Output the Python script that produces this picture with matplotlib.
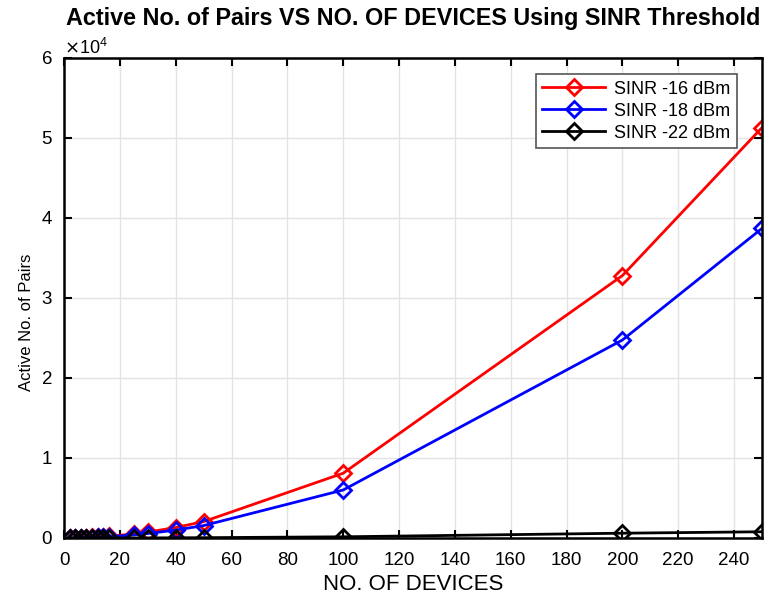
import numpy as np
import matplotlib.pyplot as plt

plt.rcParams['font.family'] = ['Liberation Sans', 'DejaVu Sans']

# number of devices
devices = [2, 4, 6, 8, 10, 12, 14, 16, 25, 30, 40, 50, 100, 200, 250]

# active pairs for each SINR threshold
pairs_16 = [3, 13, 30, 52, 82, 118, 160, 210, 512, 738, 1312, 2050, 8100, 32800, 51300]
pairs_18 = [2, 10, 22, 40, 62, 89, 121, 158, 390, 560, 990, 1550, 6000, 24750, 38700]
pairs_22 = [0, 0, 1, 1, 2, 2, 3, 4, 10, 14, 25, 40, 150, 600, 780]

labels = ['SINR -16 dBm', 'SINR -18 dBm', 'SINR -22 dBm']
colors = ['red', 'blue', 'black']

fig = plt.figure(figsize=(7.68, 5.97), dpi=100)
ax = fig.add_axes([64 / 768, 1 - 538 / 597, 698 / 768, 480 / 597])

for ys, lab, c in zip([pairs_16, pairs_18, pairs_22], labels, colors):
    ax.plot(devices, ys, color=c, linewidth=2, marker='D', markersize=8,
            markerfacecolor='none', markeredgewidth=2, label=lab)

ax.set_xlim(0, 250)
ax.set_ylim(0, 60000)
ax.set_xticks(np.arange(0, 241, 20))
ax.set_yticks(np.arange(0, 60001, 10000))
ax.ticklabel_format(axis='y', style='sci', scilimits=(0, 0), useMathText=True)
ax.yaxis.get_offset_text().set_fontsize(13)

ax.grid(True, color='#e3e3e3', linewidth=1)
ax.set_axisbelow(True)
ax.tick_params(direction='in', top=True, right=True, length=6, width=1.5, labelsize=13.5)
ax.tick_params(axis='x', pad=10)
ax.tick_params(axis='y', pad=8)
for s in ax.spines.values():
    s.set_linewidth(1.8)

ax.set_xlabel('NO. OF DEVICES', fontsize=16, labelpad=4)
ax.set_ylabel('Active No. of Pairs', fontsize=12)
ax.yaxis.set_label_coords(-0.043, 0.45)
ax.set_title('Active No. of Pairs VS NO. OF DEVICES Using SINR Threshold',
             fontsize=16.8, fontweight='bold', pad=24)

leg = ax.legend(loc='upper right', bbox_to_anchor=(0.977, 0.985), fontsize=13,
                fancybox=False, edgecolor='#555555', framealpha=1,
                handlelength=3.5, handletextpad=0.5, borderpad=0.35,
                labelspacing=0.28)
leg.get_frame().set_linewidth(1.2)

fig.savefig('out.png', dpi=100)
